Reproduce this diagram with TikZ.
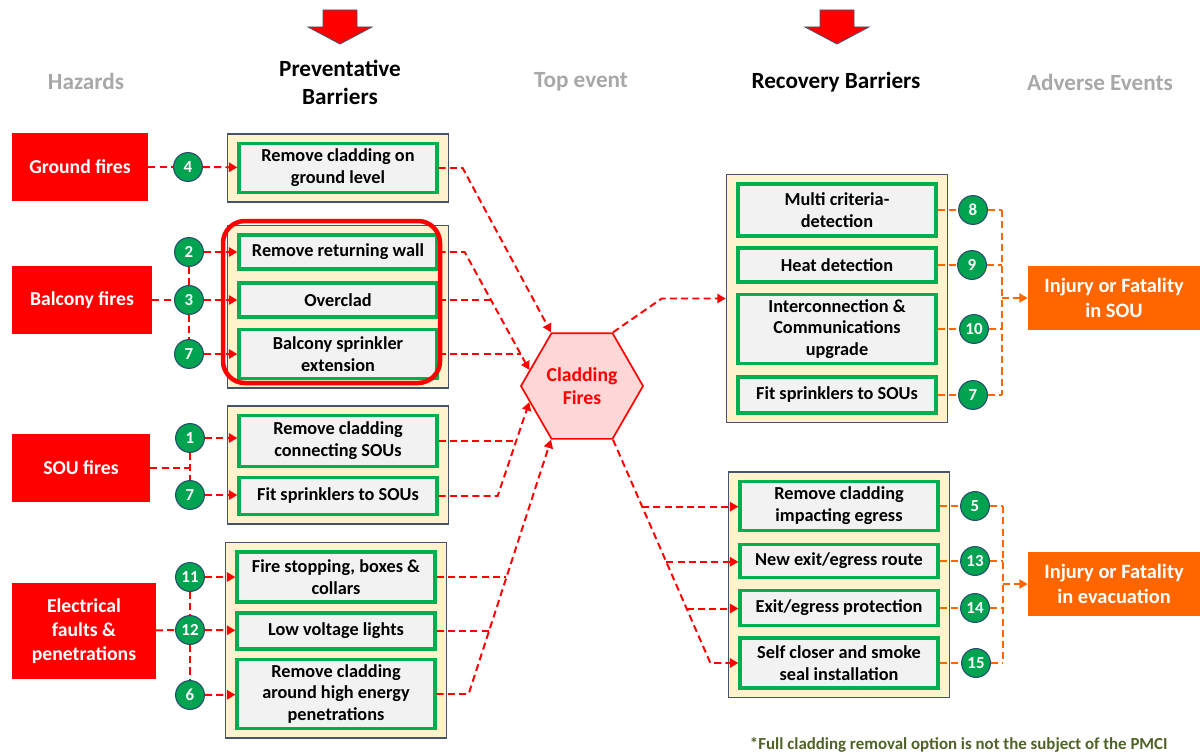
\documentclass[tikz,border=0pt]{standalone}
\usepackage{fontspec}
\setmainfont{Carlito}
\usetikzlibrary{arrows.meta,shapes.geometric,fit,backgrounds,calc}
\definecolor{cRed}{RGB}{255,0,0}
\definecolor{cGreen}{RGB}{0,176,80}
\definecolor{cDot}{RGB}{0,163,80}
\definecolor{cDotEdge}{RGB}{40,80,110}
\definecolor{cGray}{RGB}{242,242,242}
\definecolor{cCream}{RGB}{255,242,204}
\definecolor{cSlate}{RGB}{68,84,106}
\definecolor{cOrange}{RGB}{255,102,0}
\definecolor{cPink}{RGB}{255,215,215}
\definecolor{cTitle}{RGB}{168,168,168}
\definecolor{cNote}{RGB}{79,98,40}

\tikzset{
  headtxt/.style={font=\bfseries\fontsize{16.5}{20}\selectfont, align=center},
  hazard/.style={fill=cRed, text=white, minimum width=3.45cm, minimum height=1.675cm, align=center, font=\bfseries\fontsize{14}{17}\selectfont},
  adverse/.style={fill=cOrange, text=white, minimum width=4.3cm, minimum height=1.6cm, align=center, font=\bfseries\fontsize{14.5}{18}\selectfont},
  barrier/.style={draw=cGreen, line width=2.3pt, fill=cGray, minimum width=4.95cm, align=center, inner sep=1pt, font=\bfseries\fontsize{13}{15.5}\selectfont},
  grpbox/.style={draw=cSlate, line width=0.9pt, fill=cCream, inner xsep=0.25cm, inner ysep=0.2cm},
  numdot/.style={circle, fill=cDot, draw=cDotEdge, line width=0.8pt, minimum size=0.72cm, inner sep=0pt, text=white, font=\bfseries\fontsize{12}{12}\selectfont},
  rdash/.style={cRed, line width=1.4pt, dash pattern=on 5pt off 3pt},
  odash/.style={cOrange, line width=1.4pt, dash pattern=on 5pt off 3pt},
  arr/.style={-{Triangle[length=6pt,width=6.5pt]}},
  bigarrow/.style={fill=cRed, draw=cSlate, line width=0.6pt, line join=miter},
}

\begin{document}
\begin{tikzpicture}[x=0.025cm, y=-0.025cm]
\useasboundingbox (0,0) rectangle (1200,755);

% red arrows over the barrier columns
\foreach \ax in {340,837}
  \draw[bigarrow, shift={(\ax,0)}] (-17,10) -- (17,10) -- (17,27) -- (32,27) -- (0,44) -- (-32,27) -- (-17,27) -- cycle;

% column titles
\node[headtxt, text=cTitle] (tHaz) at (86,81) {Hazards};
\node[headtxt] (tPrev) at (340,82) {Preventative\\Barriers};
\node[headtxt, text=cTitle] (tTop) at (581,82) {Top event};
\node[headtxt] (tRec) at (836,82) {Recovery Barriers};
\node[headtxt, text=cTitle] (tAdv) at (1100,82) {Adverse Events};

% hazards
\node[hazard, minimum width=3.4cm] (gf) at (80,167) {Ground fires};
\node[hazard, minimum width=3.5cm] (bf) at (82,300) {Balcony fires};
\node[hazard] (sf) at (81,468) {SOU fires};
\node[hazard, minimum width=3.575cm, minimum height=2.375cm] (ef) at (84,631) {Electrical\\faults \&\\penetrations};

% preventative barriers
\node[barrier, minimum height=1.22cm] (gnd) at (338,168) {Remove cladding on\\ground level};
\node[barrier, minimum height=0.85cm] (ret) at (338,252) {Remove returning wall};
\node[barrier, minimum height=0.85cm] (ovc) at (338,300) {Overclad};
\node[barrier, minimum height=1.22cm] (bsp) at (338,354) {Balcony sprinkler\\extension};
\node[barrier, minimum height=1.27cm] (rcs) at (338,441) {Remove cladding\\connecting SOUs};
\node[barrier, minimum height=0.92cm] (fsl) at (338,496) {Fit sprinklers to SOUs};
\node[barrier, minimum height=1.25cm] (fsb) at (336,577) {Fire stopping, boxes \&\\collars};
\node[barrier, minimum height=0.9cm] (lvl) at (336,631) {Low voltage lights};
\node[barrier, minimum height=1.72cm] (rhe) at (336,694) {Remove cladding\\around high energy\\penetrations};

% recovery barriers
\node[barrier, minimum height=1.3cm] (mcd) at (837,210) {Multi criteria-\\detection};
\node[barrier, minimum height=0.85cm] (htd) at (837,265) {Heat detection};
\node[barrier, minimum height=1.72cm] (icu) at (837,329) {Interconnection \&\\Communications\\upgrade};
\node[barrier, minimum height=0.9cm] (fsr) at (837,395) {Fit sprinklers to SOUs};
\node[barrier, minimum height=1.22cm] (rie) at (839,506) {Remove cladding\\impacting egress};
\node[barrier, minimum height=0.82cm] (ner) at (839,561) {New exit/egress route};
\node[barrier, minimum height=0.87cm] (egp) at (839,608) {Exit/egress protection};
\node[barrier, minimum height=1.25cm] (scs) at (839,663) {Self closer and smoke\\seal installation};

\begin{scope}[on background layer]
  \node[grpbox, fit=(gnd)] (gP1) {};
  \node[grpbox, fit=(ret)(bsp)] (gP2) {};
  \node[grpbox, fit=(rcs)(fsl)] (gP3) {};
  \node[grpbox, fit=(fsb)(rhe)] (gP4) {};
  \node[grpbox, fit=(mcd)(fsr)] (gR1) {};
  \node[grpbox, fit=(rie)(scs)] (gR2) {};
\end{scope}

% balcony highlight
\draw[cRed, line width=3.2pt, rounded corners=0.55cm] (223,221) rectangle (440,383);

% top event
\node[regular polygon, regular polygon sides=6, minimum size=3.05cm, inner sep=0pt,
      fill=cPink, draw=cRed, line width=1.2pt, text=cRed, align=center,
      font=\bfseries\fontsize{14}{16.5}\selectfont] (hex) at (582,386) {Cladding\\Fires};

% adverse events
\node[adverse] (sou) at (1114,298) {Injury or Fatality\\in SOU};
\node[adverse] (evac) at (1114,584) {Injury or Fatality\\in evacuation};

% numbered barriers
\node[numdot] (n4) at (188,167) {4};
\node[numdot] (n2) at (189,252) {2};
\node[numdot] (n3) at (189,300) {3};
\node[numdot] (n7a) at (189,354) {7};
\node[numdot] (n1) at (190,438) {1};
\node[numdot] (n7b) at (190,495) {7};
\node[numdot] (n11) at (190,577) {11};
\node[numdot] (n12) at (190,630) {12};
\node[numdot] (n6) at (190,695) {6};
\node[numdot] (n8) at (973,210) {8};
\node[numdot] (n9) at (972,265) {9};
\node[numdot] (n10) at (974,329) {10};
\node[numdot] (n7c) at (973,395) {7};
\node[numdot] (n5) at (975,506) {5};
\node[numdot] (n13) at (975,561) {13};
\node[numdot] (n14) at (975,608) {14};
\node[numdot] (n15) at (976,663) {15};

% hazards to barriers
\draw[rdash] (gf) -- (n4);
\draw[rdash, arr] (n4) -- (gnd);
\draw[rdash] (bf) -- (n3);
\draw[rdash] (n2) -- (n3);
\draw[rdash] (n3) -- (n7a);
\draw[rdash, arr] (n2) -- (ret);
\draw[rdash, arr] (n3) -- (ovc);
\draw[rdash, arr] (n7a) -- (bsp);
\draw[rdash] (sf) -- (sf -| n1);
\draw[rdash] (n1) -- (n7b);
\draw[rdash, arr] (n1) -- (n1 -| rcs.west);
\draw[rdash, arr] (n7b) -- (n7b -| fsl.west);
\draw[rdash] (ef) -- (n12);
\draw[rdash] (n11) -- (n12);
\draw[rdash] (n12) -- (n6);
\draw[rdash, arr] (n11) -- (fsb);
\draw[rdash, arr] (n12) -- (lvl);
\draw[rdash, arr] (n6) -- (rhe);

% barriers to top event
\draw[rdash, arr] (gnd.east) -- ++(24,0) -- (hex.120);
\draw[rdash, arr] (ret.east) -- ++(26,0) coordinate (jA) -- (hex.163);
\coordinate (jB) at ($(jA)!0.41!(hex.163)$);
\coordinate (jC) at ($(jA)!0.87!(hex.163)$);
\draw[rdash] (ovc.east) -- (ovc.east -| jB);
\draw[rdash] (bsp.east) -- (bsp.east -| jC);
\draw[rdash, arr] (fsl.east) -- ++(59,0) coordinate (jD) -- (hex.197);
\coordinate (jE) at ($(jD)!0.58!(hex.197)$);
\draw[rdash] (rcs.east) -- (rcs.east -| jE);
\draw[rdash, arr] (rhe.east) -- ++(32,0) coordinate (jF) -- (hex.240);
\coordinate (jG) at ($(jF)!0.457!(hex.240)$);
\coordinate (jH) at ($(jF)!0.246!(hex.240)$);
\draw[rdash] (fsb.east) -- (fsb.east -| jG);
\draw[rdash] (lvl.east) -- (lvl.east -| jH);

% top event to recovery barriers
\draw[rdash, arr] (hex.60) -- ($(gR1.west)+(-64,0)$) -- (gR1.west);
\coordinate (kD) at ($(scs.west)+(-28,0)$);
\draw[rdash, arr] (hex.300) -- (kD) -- (scs.west);
\foreach \t/\bx in {0.30/rie, 0.547/ner, 0.756/egp} {
  \path ($(hex.300)!\t!(kD)$) coordinate (kk);
  \draw[rdash, arr] (kk) -- (kk -| \bx.west);
}

% recovery barriers to adverse events
\coordinate (busA) at ($(sou.west)+(-26,0)$);
\foreach \bx/\nx in {mcd/n8, htd/n9, icu/n10, fsr/n7c} {
  \draw[odash] (\bx.east) -- (\nx);
  \draw[odash] (\nx) -- (\nx -| busA);
}
\draw[odash] (n8 -| busA) -- (n7c -| busA);
\draw[odash, arr] (busA) -- (sou);

\coordinate (busB) at ($(evac.west)+(-25,0)$);
\foreach \bx/\nx in {rie/n5, ner/n13, egp/n14, scs/n15} {
  \draw[odash] (\bx.east) -- (\nx);
  \draw[odash] (\nx) -- (\nx -| busB);
}
\draw[odash] (n5 -| busB) -- (n15 -| busB);
\draw[odash, arr] (busB) -- (evac);

\node[anchor=west, text=cNote, font=\bfseries\fontsize{12}{14}\selectfont] (note) at (745,745) {*Full cladding removal option is not the subject of the PMCI};
\end{tikzpicture}
\end{document}
